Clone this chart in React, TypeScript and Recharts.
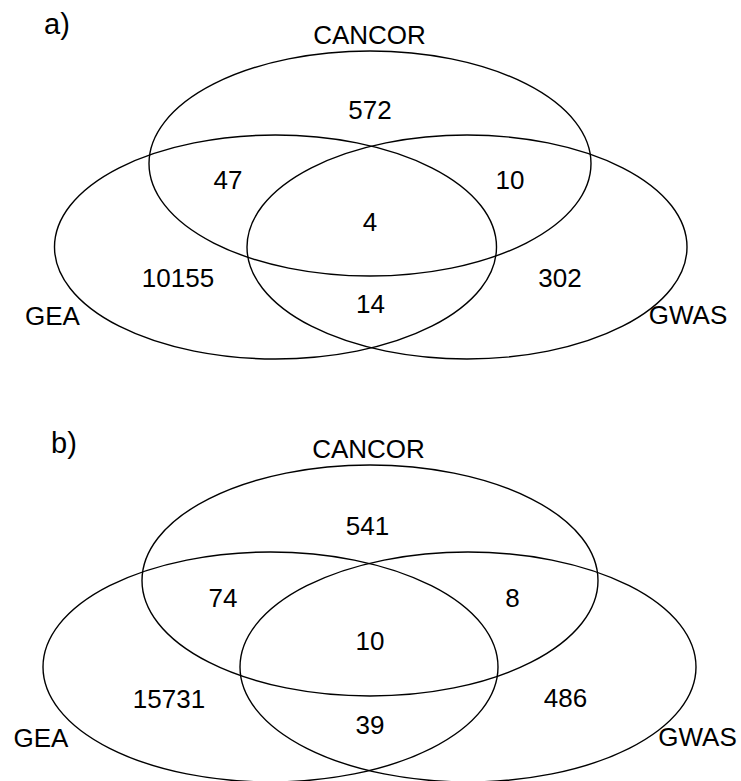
import React from 'react';
import { ScatterChart, Scatter, XAxis, YAxis } from 'recharts';

// Canvas size; the chart's axes run in pixel-sized units so 1 unit = 1 px.
const W = 741;
const H = 781;
const X_DOMAIN: [number, number] = [0, W];
const Y_DOMAIN: [number, number] = [0, H];
const KX = W / (X_DOMAIN[1] - X_DOMAIN[0]);
const KY = H / (Y_DOMAIN[1] - Y_DOMAIN[0]);

// ---- values ----
const setNames = ['CANCOR', 'GEA', 'GWAS'];
const panelTags = ['a)', 'b)'];
// Region order: CANCOR only, CANCOR∩GEA, CANCOR∩GWAS, all three,
// GEA only, GWAS only, GEA∩GWAS
const countsA = [572, 47, 10, 4, 10155, 302, 14];
const countsB = [541, 74, 8, 10, 15731, 486, 39];

// ---- layout (centres and radii of the set ellipses, label anchors) ----
type Ell = { x: number; y: number; rx: number; ry: number };
const ellipsesA: Ell[] = [
  { x: 370, y: 163.5, rx: 221, ry: 112.5 },
  { x: 275.5, y: 247, rx: 221, ry: 112 },
  { x: 467, y: 247, rx: 220, ry: 112 },
];
const ellipsesB: Ell[] = [
  { x: 370, y: 580.5, rx: 228, ry: 115.5 },
  { x: 270.5, y: 667, rx: 227.5, ry: 115 },
  { x: 468, y: 667, rx: 228, ry: 115 },
];
const regionAnchorsA = [[370, 119], [228, 189], [510, 189], [370, 231], [178, 287], [560, 287], [370.5, 313]];
const regionAnchorsB = [[367.5, 535], [223, 607], [512.5, 607], [370, 650], [169, 708], [565.5, 707], [370, 734]];
const setAnchorsA = [[369.5, 44], [52.5, 325], [688, 324]];
const setAnchorsB = [[368.5, 458], [41, 747], [697.5, 746]];
const tagAnchors = [[44, 34], [51, 453]];

type Lbl = { x: number; y: number; text: string; anchor: 'start' | 'middle' };

const ellipseData: Ell[] = [...ellipsesA, ...ellipsesB];

const labelData: Lbl[] = [
  ...countsA.map((c, i) => ({ x: regionAnchorsA[i][0], y: regionAnchorsA[i][1], text: String(c), anchor: 'middle' as const })),
  ...countsB.map((c, i) => ({ x: regionAnchorsB[i][0], y: regionAnchorsB[i][1], text: String(c), anchor: 'middle' as const })),
  ...setNames.map((n, i) => ({ x: setAnchorsA[i][0], y: setAnchorsA[i][1], text: n, anchor: 'middle' as const })),
  ...setNames.map((n, i) => ({ x: setAnchorsB[i][0], y: setAnchorsB[i][1], text: n, anchor: 'middle' as const })),
  ...panelTags.map((t, i) => ({ x: tagAnchors[i][0], y: tagAnchors[i][1], text: t, anchor: 'start' as const })),
];

const FONT = '"Liberation Sans", Arial, Helvetica, sans-serif';

const EllipseShape = (props: any) => {
  const { cx, cy, payload } = props;
  if (cx == null || cy == null) return null;
  return (
    <ellipse
      cx={cx}
      cy={cy}
      rx={payload.rx * KX}
      ry={payload.ry * KY}
      fill="none"
      stroke="#000"
      strokeWidth={1.4}
    />
  );
};

const LabelShape = (props: any) => {
  const { cx, cy, payload } = props;
  if (cx == null || cy == null) return null;
  const isTag = payload.anchor === 'start';
  return (
    <text
      x={cx}
      y={cy}
      textAnchor={payload.anchor}
      fontFamily={FONT}
      fontSize={isTag ? 29 : 26}
      fill="#000"
    >
      {payload.text}
    </text>
  );
};

export default function App() {
  return (
    <div style={{ position: 'absolute', left: 0, top: 0, width: W, height: H, background: '#fff' }}>
      <ScatterChart width={W} height={H} margin={{ top: 0, right: 0, bottom: 0, left: 0 }}>
        <XAxis type="number" dataKey="x" domain={X_DOMAIN} hide allowDataOverflow />
        <YAxis type="number" dataKey="y" domain={Y_DOMAIN} reversed hide allowDataOverflow />
        <Scatter data={ellipseData} shape={EllipseShape} isAnimationActive={false} />
        <Scatter data={labelData} shape={LabelShape} isAnimationActive={false} />
      </ScatterChart>
    </div>
  );
}
